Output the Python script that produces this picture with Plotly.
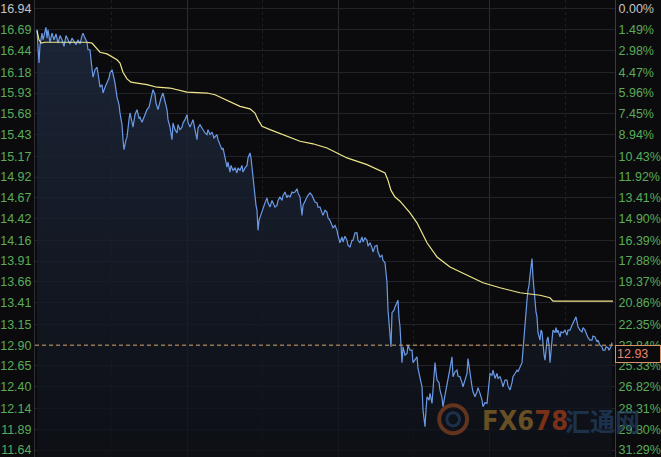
import plotly.graph_objects as go

# ---- axis labels ----
left_labels = ["16.94", "16.69", "16.44", "16.18", "15.93", "15.68", "15.43", "15.17",
               "14.92", "14.67", "14.42", "14.16", "13.91", "13.66", "13.41", "13.15",
               "12.90", "12.65", "12.40", "12.14", "11.89", "11.64"]
right_labels = ["0.00%", "1.49%", "2.98%", "4.47%", "5.96%", "7.45%", "8.94%", "10.43%",
                "11.92%", "13.41%", "14.90%", "16.39%", "17.88%", "19.37%", "20.86%", "22.35%",
                "23.84%", "25.33%", "26.82%", "28.31%", "29.80%", "31.29%"]

# ---- price series (time index, price) ----
times = [
    2, 3, 4, 5, 6, 7, 8, 9, 11, 12,
    13, 15, 17, 19, 21, 23, 25, 27, 29, 31,
    33, 35, 37, 39, 41, 43, 45, 47, 48, 50,
    52, 53, 55, 56, 58, 60, 62, 64, 65, 67,
    68, 70, 72, 74, 75, 77, 79, 80, 82, 84,
    85, 87, 88, 89, 91, 92, 94, 95, 97, 98,
    100, 102, 104, 105, 107, 108, 110, 112, 114, 115,
    117, 118, 120, 121, 123, 124, 126, 128, 130, 132,
    133, 135, 137, 138, 140, 142, 143, 145, 147, 148,
    150, 152, 153, 155, 157, 158, 160, 162, 163, 165,
    167, 168, 170, 172, 173, 175, 177, 179, 180, 182,
    183, 185, 187, 188, 190, 192, 193, 195, 196, 198,
    200, 202, 203, 205, 207, 208, 210, 212, 213, 215,
    216, 217, 218, 220, 221, 222, 223, 224, 225, 227,
    228, 230, 232, 233, 235, 237, 238, 240, 242, 243,
    245, 247, 248, 250, 252, 253, 255, 257, 258, 260,
    262, 263, 265, 266, 267, 268, 270, 272, 273, 275,
    277, 278, 280, 282, 283, 285, 287, 288, 290, 292,
    293, 295, 297, 298, 300, 302, 303, 305, 307, 308,
    310, 312, 313, 315, 317, 318, 320, 322, 323, 325,
    327, 328, 330, 332, 333, 335, 337, 338, 340, 342,
    343, 345, 347, 348, 350, 351, 352, 353, 354, 355,
    356, 357, 359, 360, 362, 363, 364, 365, 366, 367,
    368, 370, 372, 373, 375, 377, 378, 380, 382, 383,
    385, 387, 388, 389, 390, 391, 392, 394, 395, 397,
    398, 400, 401, 402, 404, 405, 407, 408, 410, 412,
    413, 415, 417, 418, 420, 422, 423, 425, 427, 428,
    430, 432, 433, 435, 437, 438, 440, 442, 443, 445,
    447, 448, 450, 452, 453, 455, 457, 458, 460, 462,
    463, 465, 467, 468, 470, 472, 473, 475, 477, 478,
    480, 482, 483, 485, 487, 488, 489, 490, 491, 492,
    493, 494, 495, 496, 497, 498, 499, 500, 501, 502,
    503, 505, 506, 507, 508, 509, 510, 511, 512, 513,
    514, 515, 516, 517, 518, 520, 521, 522, 523, 525,
    526, 528, 530, 532, 533, 535, 537, 538, 540, 541,
    543, 545, 547, 548, 550, 552, 553, 555, 557, 558,
    560, 562, 563, 565, 567, 568, 570, 571, 573, 574,
    576, 577,
]
prices = [
    16.69, 16.51, 16.29, 16.51, 16.59, 16.65, 16.57, 16.63, 16.72, 16.59,
    16.69, 16.54, 16.65, 16.57, 16.64, 16.53, 16.62, 16.57, 16.49, 16.62,
    16.57, 16.52, 16.59, 16.54, 16.51, 16.57, 16.52, 16.62, 16.65, 16.59,
    16.54, 16.45, 16.45, 16.33, 16.12, 16.21, 16.24, 16.09, 16.00, 16.03,
    15.93, 16.00, 16.05, 16.11, 16.17, 16.21, 16.11, 16.05, 15.88, 15.79,
    15.69, 15.55, 15.37, 15.25, 15.37, 15.40, 15.61, 15.69, 15.58, 15.52,
    15.67, 15.73, 15.63, 15.64, 15.58, 15.61, 15.69, 15.73, 15.76, 15.81,
    15.91, 15.97, 15.91, 15.81, 15.73, 15.79, 15.87, 15.93, 15.82, 15.73,
    15.61, 15.52, 15.37, 15.57, 15.49, 15.45, 15.55, 15.49, 15.52, 15.57,
    15.61, 15.67, 15.58, 15.52, 15.58, 15.61, 15.49, 15.37, 15.51, 15.55,
    15.51, 15.49, 15.45, 15.43, 15.49, 15.43, 15.46, 15.39, 15.40, 15.43,
    15.37, 15.31, 15.25, 15.27, 15.16, 15.04, 15.10, 14.98, 15.06, 15.00,
    15.03, 14.97, 15.03, 15.00, 15.06, 14.98, 15.03, 15.06, 15.15, 15.21,
    15.15, 15.04, 14.85, 14.70, 14.58, 14.52, 14.28, 14.40, 14.44, 14.50,
    14.56, 14.61, 14.67, 14.61, 14.56, 14.64, 14.61, 14.56, 14.58, 14.64,
    14.68, 14.64, 14.70, 14.74, 14.67, 14.70, 14.68, 14.74, 14.73, 14.74,
    14.78, 14.73, 14.68, 14.58, 14.46, 14.58, 14.64, 14.68, 14.70, 14.73,
    14.70, 14.67, 14.62, 14.61, 14.56, 14.56, 14.50, 14.46, 14.52, 14.50,
    14.43, 14.40, 14.34, 14.31, 14.34, 14.28, 14.22, 14.13, 14.20, 14.14,
    14.21, 14.16, 14.10, 14.08, 14.16, 14.16, 14.25, 14.25, 14.16, 14.13,
    14.20, 14.14, 14.19, 14.16, 14.09, 14.13, 14.07, 14.02, 14.09, 14.10,
    14.02, 13.96, 13.98, 13.92, 13.89, 13.80, 13.65, 13.32, 13.14, 13.02,
    12.88, 13.29, 13.32, 13.36, 13.41, 13.44, 13.23, 13.12, 12.90, 12.69,
    12.88, 12.78, 12.80, 12.90, 12.84, 12.84, 12.69, 12.72, 12.76, 12.62,
    12.52, 12.40, 12.12, 12.02, 11.92, 12.12, 12.28, 12.24, 12.32, 12.20,
    12.36, 12.69, 12.58, 12.48, 12.45, 12.36, 12.27, 12.16, 12.30, 12.45,
    12.52, 12.62, 12.76, 12.52, 12.58, 12.60, 12.53, 12.52, 12.45, 12.40,
    12.48, 12.56, 12.74, 12.54, 12.40, 12.34, 12.28, 12.34, 12.39, 12.32,
    12.24, 12.16, 12.21, 12.20, 12.30, 12.56, 12.54, 12.60, 12.50, 12.56,
    12.50, 12.52, 12.45, 12.40, 12.48, 12.48, 12.41, 12.36, 12.45, 12.52,
    12.56, 12.60, 12.58, 12.64, 12.69, 12.84, 13.02, 13.17, 13.32, 13.44,
    13.56, 13.62, 13.74, 13.86, 13.94, 13.71, 13.54, 13.41, 13.30, 13.24,
    13.05, 12.96, 13.08, 13.06, 12.88, 12.79, 12.72, 12.90, 12.96, 13.00,
    12.90, 12.69, 12.90, 12.96, 13.08, 13.05, 13.11, 13.05, 13.08, 13.00,
    13.06, 13.05, 13.08, 13.02, 13.08, 13.08, 13.14, 13.17, 13.23, 13.24,
    13.12, 13.08, 13.06, 13.11, 13.08, 13.02, 12.99, 12.96, 12.96, 13.01,
    13.00, 12.94, 12.96, 12.90, 12.88, 12.84, 12.84, 12.88, 12.87, 12.84,
    12.88, 12.93,
]

# ---- average price line ----
avg_times = [2, 4, 6, 10, 25, 40, 52, 57, 61, 65,
             72, 78, 82, 85, 88, 92, 96, 102, 112, 122,
             135, 152, 172, 180, 187, 195, 205, 215, 220, 223,
             227, 235, 248, 265, 278, 292, 302, 312, 332, 345,
             350, 353, 356, 360, 365, 375, 382, 392, 402, 415,
             432, 448, 465, 485, 505, 515, 518, 545, 578]
avg_prices = [16.68, 16.57, 16.53, 16.54, 16.54, 16.54, 16.54, 16.53, 16.47, 16.42,
              16.40, 16.36, 16.33, 16.29, 16.18, 16.10, 16.06, 16.05, 16.03, 16.00,
              15.99, 15.94, 15.93, 15.91, 15.87, 15.82, 15.77, 15.74, 15.69, 15.61,
              15.53, 15.49, 15.43, 15.35, 15.32, 15.27, 15.21, 15.15, 15.07, 15.00,
              14.97, 14.88, 14.76, 14.68, 14.63, 14.49, 14.37, 14.13, 13.96, 13.84,
              13.74, 13.65, 13.59, 13.53, 13.50, 13.47, 13.43, 13.43, 13.43]

last_price_text = "12.93"
price_line_level = 12.90

y_range = [11.556, 17.048]
x_range = [0, 580]

GREEN = "#5aac5a"
GREY = "#c4c4c4"
BG = "#0b0b0d"
FONT = "Liberation Sans, Arial, sans-serif"

left_text = [f"<span style='color:{GREY}'>{s}</span>" if i == 0 else s
             for i, s in enumerate(left_labels)]
right_text = [f"<span style='color:{GREY}'>{s}</span>" if i == 0 else s
              for i, s in enumerate(right_labels)]
tick_positions = [float(s) for s in left_labels]

fig = go.Figure()
fig.add_trace(go.Scatter(
    x=times, y=prices, mode="lines",
    line=dict(color="#6a9ae6", width=1.2),
    fill="tozeroy",
    fillgradient=dict(type="vertical",
                      colorscale=[[0, "rgba(14,17,24,0.75)"], [1, "rgba(30,41,62,0.85)"]],
                      start=y_range[0], stop=16.7),
    hoverinfo="skip", showlegend=False,
))
fig.add_trace(go.Scatter(
    x=avg_times, y=avg_prices, mode="lines",
    line=dict(color="#eee68a", width=1.2),
    hoverinfo="skip", showlegend=False,
))
fig.add_trace(go.Scatter(
    x=[times[-1]], y=[prices[-1]], yaxis="y2", mode="markers",
    marker=dict(opacity=0), hoverinfo="skip", showlegend=False,
))

fig.add_shape(type="line", xref="x domain", x0=0, x1=1, yref="y",
              y0=price_line_level, y1=price_line_level,
              line=dict(color="#d6a36a", width=1, dash="4px,3px"))

# watermark logo
fig.add_shape(type="circle", xref="paper", yref="paper",
              x0=0.697, x1=0.745, y0=0.052, y1=0.113,
              line=dict(color="rgba(170,80,35,0.55)", width=4))
fig.add_shape(type="circle", xref="paper", yref="paper",
              x0=0.710, x1=0.732, y0=0.068, y1=0.097,
              line=dict(color="rgba(40,70,110,0.6)", width=3))

fig.add_annotation(
    xref="paper", yref="paper", x=0.768, y=0.080, xanchor="left", yanchor="middle",
    text="<b><span style='color:rgba(135,100,40,0.75)'>FX6</span>"
         "<span style='color:rgba(160,60,25,0.75)'>78</span></b>",
    showarrow=False,
    font=dict(family="Liberation Sans Narrow, Arial Narrow, DejaVu Sans Condensed, sans-serif", size=27),
)
fig.add_annotation(
    xref="paper", yref="paper", x=0.910, y=0.080, xanchor="left", yanchor="middle",
    text="<b>汇通网</b>", showarrow=False,
    font=dict(family="Noto Sans CJK SC", size=25, color="rgba(35,65,100,0.7)"),
)

fig.add_annotation(
    xref="paper", x=1.0, xanchor="left", yref="y", y=price_line_level, yanchor="top",
    text=last_price_text, showarrow=False, align="left",
    font=dict(family=FONT, size=12.5, color="#e8826c"),
    bgcolor=BG, bordercolor="#d8926a", borderwidth=1, borderpad=1, width=42,
)

fig.update_layout(
    width=661, height=457,
    margin=dict(l=35, r=46, t=0, b=0, autoexpand=False),
    paper_bgcolor=BG, plot_bgcolor=BG,
    showlegend=False,
    hovermode=False,
    font=dict(family=FONT, size=12.5, color=GREEN),
    xaxis=dict(range=x_range, showticklabels=False, ticks="", zeroline=False,
               automargin=False,
               tickmode="array", tickvals=[152, 303, 454],
               showgrid=True, gridcolor="#2a2c31", gridwidth=1,
               minor=dict(tickmode="array", tickvals=[76, 227, 378, 530], showgrid=True,
                          gridcolor="#1d1f23", griddash="dot"),
               showline=False),
    yaxis=dict(range=y_range, tickmode="array", tickvals=tick_positions, ticktext=left_text,
               automargin=False, ticklabeloverflow="allow",
               showgrid=True, gridcolor="#212328", gridwidth=1, zeroline=False,
               ticks="", showline=True, linecolor="#2c2e33",
               tickfont=dict(family=FONT, color=GREEN, size=12.5)),
    yaxis2=dict(range=y_range, overlaying="y", side="right", tickmode="array",
                automargin=False, ticklabeloverflow="allow",
                tickvals=tick_positions, ticktext=right_text, showgrid=False, zeroline=False,
                ticks="", showline=True, linecolor="#3a3c40",
                tickfont=dict(family=FONT, color=GREEN, size=12.5)),
)

fig.write_html("out.html", config={"displayModeBar": False, "staticPlot": True},
               post_script="document.body.style.margin='0';document.body.style.background='#0b0b0d';")
